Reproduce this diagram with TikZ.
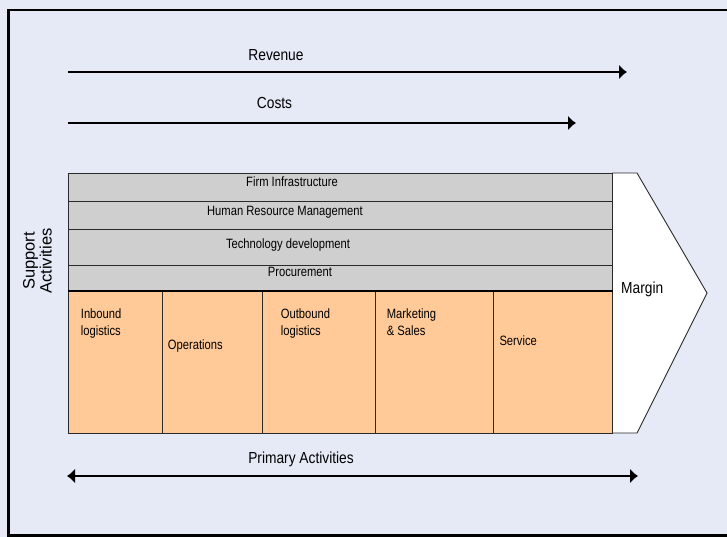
\documentclass[tikz,border=0pt]{standalone}
\usepackage{fontspec}
\setmainfont[FakeStretch=0.86]{Liberation Sans}
\newfontfamily\narrowsans[FakeStretch=0.83]{Liberation Sans}
\newfontfamily\uprightsans{Liberation Sans}
\usetikzlibrary{arrows.meta}

\definecolor{panelbg}{HTML}{E6EAF6}
\definecolor{supportfill}{HTML}{CFCFCF}
\definecolor{primaryfill}{HTML}{FFCA98}
\definecolor{edgeline}{HTML}{2A2A2A}

\newcommand\bigtxt{\fontsize{16}{19}\selectfont}
\newcommand\smalltxt{\narrowsans\fontsize{13.5}{17.5}\selectfont}

\tikzset{
  rowbox/.style={draw=edgeline, line width=1pt, fill=supportfill, inner sep=0pt,
    minimum width=544pt, anchor=north west},
  actbox/.style={draw=edgeline, line width=1pt, fill=primaryfill, inner sep=0pt,
    minimum height=142pt, anchor=north west},
  rowlabel/.style={font=\smalltxt, inner sep=0pt, anchor=base},
  actlabel/.style={font=\smalltxt, inner sep=0pt, anchor=base west, align=left},
  biglabel/.style={font=\bigtxt, inner sep=0pt, anchor=base},
  flow/.style={line width=1.7pt, draw=black, -{Latex[length=8pt,width=15pt]}},
  twoway/.style={line width=1.7pt, draw=black, {Latex[length=8pt,width=15pt]}-{Latex[length=8pt,width=15pt]}},
}

\begin{document}
\begin{tikzpicture}[x=1pt,y=-1pt]
  % canvas and outer frame
  \useasboundingbox (0,0) rectangle (727,537);
  \fill[panelbg] (0,0) rectangle (727,537);
  \draw[line width=2.6pt, black] (735,10) -- (8.3,10) -- (8.3,535.2) -- (735,535.2);

  % revenue and cost arrows
  \coordinate (revL) at (68,72);
  \coordinate (revR) at (627,72);
  \coordinate (costL) at (68,123);
  \coordinate (costR) at (576,123);
  \draw[flow] (revL) -- (revR);
  \draw[flow] (costL) -- (costR);
  \node[biglabel] (revenue) at (276,60.5) {Revenue};
  \node[biglabel] (costs) at (274.5,108.5) {Costs};

  % margin chevron
  \filldraw[fill=white, draw=edgeline, line width=0.9pt]
    (612,173) -- (637,173) -- (707,293) -- (637,433) -- (612,433);

  % support activities
  \node[rowbox, minimum height=28pt] (firm) at (68,173) {};
  \node[rowbox, minimum height=28pt] (hrm) at (68,201) {};
  \node[rowbox, minimum height=36pt] (tech) at (68,229) {};
  \node[rowbox, minimum height=26pt] (proc) at (68,265) {};
  \node[rowlabel] (firmtxt) at (292,186.8) {Firm Infrastructure};
  \node[rowlabel] (hrmtxt) at (285,215.2) {Human Resource Management};
  \node[rowlabel] (techtxt) at (288,248.5) {Technology development};
  \node[rowlabel] (proctxt) at (300,276.8) {Procurement};

  % primary activities
  \node[actbox, minimum width=94pt] (inbound) at (68,291) {};
  \node[actbox, minimum width=100pt] (ops) at (162,291) {};
  \node[actbox, minimum width=113pt] (outbound) at (262,291) {};
  \node[actbox, minimum width=118pt] (mkt) at (375,291) {};
  \node[actbox, minimum width=119pt] (service) at (493,291) {};
  \draw[line width=2.6pt, black] (inbound.north west) -- (service.north east);

  \node[actlabel] (inboundtxt) at (80.7,335.5) {Inbound\\logistics};
  \node[actlabel] (opstxt) at (167.7,349.5) {Operations};
  \node[actlabel] (outboundtxt) at (280.7,335.5) {Outbound\\logistics};
  \node[actlabel] (mkttxt) at (386.7,335.5) {Marketing\\\& Sales};
  \node[actlabel] (servicetxt) at (499.3,345.5) {Service};

  \node[font=\bigtxt, inner sep=0pt, anchor=base west] (margin) at (621,293.2) {Margin};

  % side label
  \node[rotate=90, font={\uprightsans\fontsize{16.5}{17}\selectfont}, inner sep=0pt,
    align=center] (support) at (37.5,261) {Support\\Activities};

  % primary activities span
  \coordinate (primL) at (67,476);
  \coordinate (primR) at (638,476);
  \draw[twoway] (primL) -- (primR);
  \node[biglabel] (primary) at (301,463.2) {Primary Activities};
\end{tikzpicture}
\end{document}
